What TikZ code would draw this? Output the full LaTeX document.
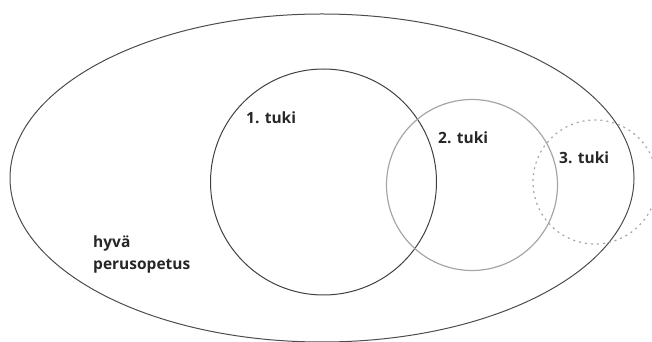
\documentclass[tikz,border=0pt]{standalone}
\usepackage{fontspec}
\setmainfont{Open Sans}
\usetikzlibrary{positioning}

\begin{document}
\begin{tikzpicture}[x=1pt,y=1pt,
        tuki/.style={font=\bfseries\fontsize{15.5}{22}\selectfont, text=black!85, inner sep=0pt}]
        \useasboundingbox (0,0) rectangle (652,342);
        \draw[black!70, line width=1pt] (322,164) ellipse (312 and 164);
        \draw[black!75, line width=1pt] (323.5,160) circle (113);
        \draw[black!35, line width=1.2pt] (472,157) circle (85.5);
        \draw[black!35, line width=1.2pt, dash pattern=on 2pt off 4pt] (595,160) circle (62);
        \node[tuki, anchor=west] (t1) at (246,224) {1. tuki};
        \node[tuki, anchor=west] (t2) at (438,204) {2. tuki};
        \node[tuki, anchor=west] (t3) at (559,184) {3. tuki};
        \node[tuki, anchor=west, align=left] (hp) at (93,88) {hyvä\\perusopetus};
    \end{tikzpicture}
\end{document}
